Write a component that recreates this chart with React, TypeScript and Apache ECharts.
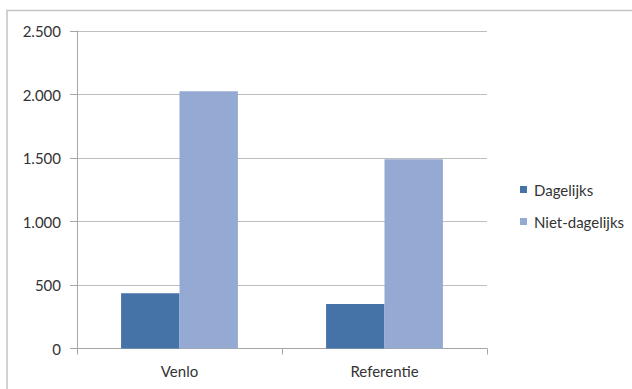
import React, { useEffect, useRef } from "react";
import * as echarts from "echarts";

const categories = ["Venlo", "Referentie"];
const seriesNames = ["Dagelijks", "Niet-dagelijks"];
const dagelijks = [435, 350];
const nietDagelijks = [2025, 1490];
const yTicks = { min: 0, max: 2500, interval: 500 };

const FONT = "Lato";
const TEXT = "#333333";

function fmt(v: number): string {
  const s = Math.round(v).toString();
  return s.replace(/\B(?=(\d{3})+(?!\d))/g, ".");
}

export default function App() {
  const ref = useRef<HTMLDivElement>(null);
  useEffect(() => {
    if (!ref.current) return;
    const chart = echarts.init(ref.current, undefined, { renderer: "svg" });
    chart.setOption({
      animation: false,
      backgroundColor: "#ffffff",
      textStyle: { fontFamily: FONT },
      grid: { left: 77, top: 31, right: 145, bottom: 40.5, containLabel: false },
      graphic: [
        {
          type: "rect",
          shape: { x: 7, y: 10.5, width: 700, height: 500 },
          style: { fill: "none", stroke: "#c4c4c4", lineWidth: 1.5 },
          silent: true,
          z: -1,
        },
      ],
      legend: {
        orient: "vertical",
        left: 515,
        top: 177,
        itemWidth: 7,
        itemHeight: 7,
        itemGap: 17,
        icon: "rect",
        textStyle: { fontFamily: FONT, fontSize: 15, color: TEXT, padding: [0, 0, 0, 2] },
        data: seriesNames,
      },
      xAxis: {
        type: "category",
        data: categories,
        axisLine: { show: true, lineStyle: { color: "#a6a6a6", width: 1 } },
        axisTick: { show: true, length: 6, alignWithLabel: false, lineStyle: { color: "#a6a6a6" } },
        axisLabel: { fontFamily: FONT, fontSize: 15, color: TEXT, margin: 15 },
        splitLine: { show: false },
      },
      yAxis: {
        type: "value",
        min: yTicks.min,
        max: yTicks.max,
        interval: yTicks.interval,
        axisLine: { show: true, lineStyle: { color: "#a6a6a6", width: 1 } },
        axisTick: { show: true, length: 7, lineStyle: { color: "#a6a6a6" } },
        axisLabel: {
          fontFamily: FONT,
          fontSize: 15,
          color: TEXT,
          margin: 16,
          formatter: (v: number) => fmt(v),
        },
        splitLine: { show: true, lineStyle: { color: "#bdbdbd", width: 1 } },
      },
      series: [
        {
          name: seriesNames[0],
          type: "bar",
          data: dagelijks,
          barGap: "0%",
          barCategoryGap: "43%",
          itemStyle: { color: "#4572a7" },
        },
        {
          name: seriesNames[1],
          type: "bar",
          data: nietDagelijks,
          barGap: "0%",
          barCategoryGap: "43%",
          itemStyle: { color: "#95aad2" },
        },
      ],
    });
    return () => chart.dispose();
  }, []);
  return <div ref={ref} style={{ width: 632, height: 389, position: "absolute", left: 0, top: 0 }} />;
}
